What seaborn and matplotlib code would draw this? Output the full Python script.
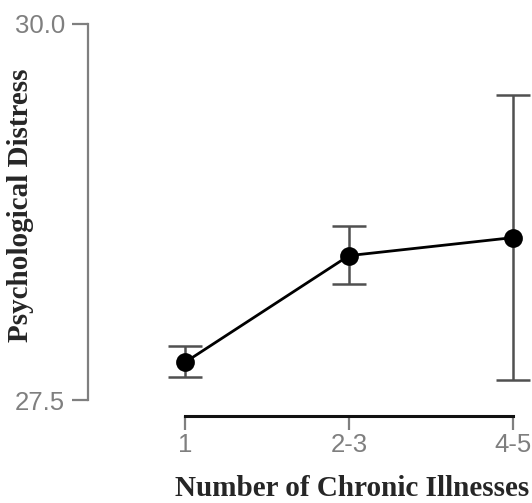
import numpy as np
import pandas as pd
import matplotlib
matplotlib.use('Agg')
import matplotlib.pyplot as plt
import seaborn as sns

# ── Data ─────────────────────────────────────────────────────
categories = ['1', '2-3', '4-5']
means = [27.75, 28.46, 28.58]
ci_lower = [27.65, 28.27, 27.63]
ci_upper = [27.86, 28.66, 29.53]
y_ticks = [27.5, 30.0]
y_tick_labels = ['27.5', '30.0']

df = pd.DataFrame({'illnesses': categories, 'distress': means})

sns.set_style('ticks')
plt.rcParams['font.family'] = ['Liberation Sans', 'DejaVu Sans']

gray = '#7f7f7f'

fig = plt.figure(figsize=(5.32, 5.03), dpi=100)
ax = fig.add_axes([88 / 532, 87 / 503, 444 / 532, 406 / 503])

# error bars first so the markers sit on top
x = np.arange(len(categories))
err = [np.array(means) - np.array(ci_lower), np.array(ci_upper) - np.array(means)]
ax.errorbar(x, means, yerr=err, fmt='none', ecolor='#505050', elinewidth=1.8,
            capsize=12, capthick=1.8, zorder=1)

sns.pointplot(data=df, x='illnesses', y='distress', color='black',
              errorbar=None, markersize=12, linewidth=2.0, ax=ax, zorder=3)

xlo, xhi = -0.59, 2.116
ax.set_xlim(xlo, xhi)
ax.set_ylim(27.394, 30.093)
ax.set_yticks(y_ticks)
ax.set_yticklabels(y_tick_labels)

for s in ['top', 'right']:
    ax.spines[s].set_visible(False)
ax.spines['left'].set_bounds(27.5, 30.0)
ax.spines['bottom'].set_bounds(0, 2)
ax.spines['left'].set_color(gray)
ax.spines['left'].set_linewidth(1.6)
ax.spines['bottom'].set_color('#111111')
ax.spines['bottom'].set_linewidth(2.2)

ax.tick_params(axis='y', length=11.5, width=1.6, color=gray, pad=5,
               labelsize=18.5, labelcolor=gray)
ax.tick_params(axis='x', length=10, width=1.6, color=gray, pad=2,
               labelsize=18.5, labelcolor=gray)

label_font = dict(family=['Liberation Serif', 'DejaVu Serif'], fontweight='bold', fontsize=21)
ax.set_xlabel('Number of Chronic Illnesses', va='center', **label_font)
ax.set_ylabel('Psychological Distress', va='center', **label_font)
ax.xaxis.set_label_coords((1.02 - xlo) / (xhi - xlo), -72 / 406)
ax.yaxis.set_label_coords(-67 / 444, (416 - 205) / 406)

fig.savefig('out.png', dpi=100)
